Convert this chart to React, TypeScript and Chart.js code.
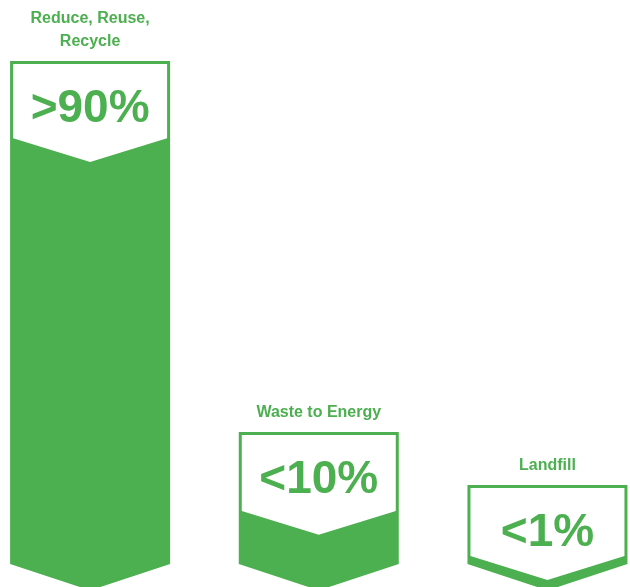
import React, { useEffect, useRef } from "react";
import { Chart, registerables } from "chart.js";

Chart.register(...registerables);

// ---- data ----
const categories: string[][] = [["Reduce, Reuse,", "Recycle"], ["Waste to Energy"], ["Landfill"]];
const shareLabels: string[] = [">90%", "<10%", "<1%"];
const positions: number[] = [0, 1, 2];
const fillLevels: number[] = [75.5, 9.4, 1.4];
const boxTops: number[] = [89.2, 23.4, 14.0];

const GREEN = "#4CAF50";
const FONT = "'Liberation Sans', Arial, Helvetica, sans-serif";

const pictogramPlugin = {
  id: "pictogram",
  afterDatasetsDraw(chart: any) {
    const ctx = chart.ctx as CanvasRenderingContext2D;
    const fillMeta = chart.getDatasetMeta(0);
    const boxMeta = chart.getDatasetMeta(1);
    fillMeta.data.forEach((el: any, i: number) => {
      const box = boxMeta.data[i];
      const p = el.getProps(["x", "y", "base", "width"], true);
      const b = box.getProps(["y", "base"], true);
      const cx = p.x;
      const L = cx - p.width / 2;
      const R = cx + p.width / 2;
      const top = Math.min(b.y, b.base);
      const edge = p.y;
      const base = p.base;
      const bw = 3;
      const half = p.width / 2;
      const dBottom = half * 0.33;
      const dInner = (half - bw) * 0.31;

      ctx.save();
      // outer green arrow
      ctx.fillStyle = GREEN;
      ctx.beginPath();
      ctx.moveTo(L, top);
      ctx.lineTo(R, top);
      ctx.lineTo(R, base);
      ctx.lineTo(cx, base + dBottom);
      ctx.lineTo(L, base);
      ctx.closePath();
      ctx.fill();

      // white header with chevron bottom
      ctx.fillStyle = "#ffffff";
      ctx.beginPath();
      ctx.moveTo(L + bw, top + bw);
      ctx.lineTo(R - bw, top + bw);
      ctx.lineTo(R - bw, edge);
      ctx.lineTo(cx, edge + dInner);
      ctx.lineTo(L + bw, edge);
      ctx.closePath();
      ctx.fill();

      // big share label
      ctx.fillStyle = GREEN;
      ctx.textAlign = "center";
      ctx.textBaseline = "alphabetic";
      ctx.font = `bold 46px ${FONT}`;
      ctx.fillText(shareLabels[i], cx, top + 61);

      // category title above
      ctx.font = `bold 16px ${FONT}`;
      const lines = categories[i];
      lines.forEach((line, j) => {
        const fromBottom = lines.length - 1 - j;
        ctx.fillText(line, cx, top - 15 - fromBottom * 23);
      });
      ctx.restore();
    });
  },
};

export default function App() {
  const canvasRef = useRef<HTMLCanvasElement | null>(null);

  useEffect(() => {
    const canvas = canvasRef.current;
    if (!canvas) return;
    const chart = new Chart(canvas, {
      type: "bar",
      data: {
        datasets: [
          {
            label: "Share",
            data: positions.map((x, i) => ({ x, y: fillLevels[i] })),
            backgroundColor: "rgba(0,0,0,0)",
            borderWidth: 0,
            barThickness: 160,
            grouped: false,
          } as any,
          {
            label: "Header",
            data: positions.map((x, i) => ({ x, y: [fillLevels[i], boxTops[i]] })),
            backgroundColor: "rgba(0,0,0,0)",
            borderWidth: 0,
            barThickness: 160,
            grouped: false,
          } as any,
        ],
      },
      options: {
        responsive: false,
        devicePixelRatio: 1,
        animation: false,
        layout: { padding: { left: 0, right: 0, top: 0, bottom: 23 } },
        plugins: {
          legend: { display: false },
          tooltip: { enabled: false },
        },
        scales: {
          x: {
            type: "linear",
            display: false,
            offset: false,
            min: -0.394,
            max: 2.361,
            grid: { display: false },
          },
          y: {
            type: "linear",
            display: false,
            min: 0,
            max: 100,
            grid: { display: false },
          },
        },
      } as any,
      plugins: [pictogramPlugin],
    });
    return () => chart.destroy();
  }, []);

  return (
    <div style={{ position: "fixed", left: 0, top: 0, width: 630, height: 587, background: "#ffffff" }}>
      <canvas ref={canvasRef} width={630} height={587} style={{ display: "block" }} />
    </div>
  );
}
